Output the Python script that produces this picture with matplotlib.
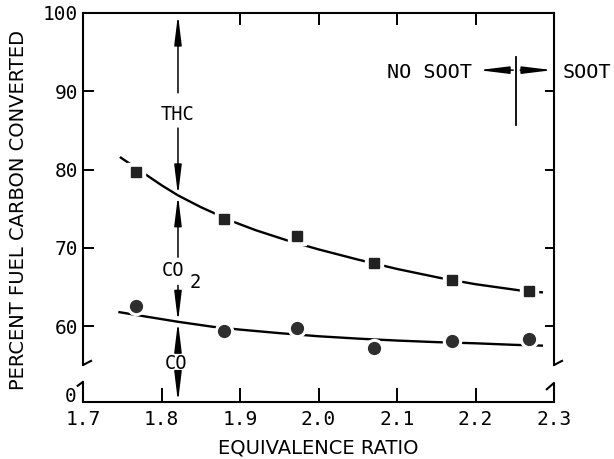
import matplotlib
matplotlib.use("Agg")
import matplotlib.pyplot as plt
from matplotlib.transforms import ScaledTranslation

# ---------------- data ----------------
ratio_pts = [1.767, 1.880, 1.972, 2.071, 2.170, 2.268]
square_pts = [79.7, 73.7, 71.5, 68.1, 65.9, 64.5]     # THC / CO2 boundary
circle_pts = [62.6, 59.4, 59.7, 57.2, 58.1, 58.3]     # CO2 / CO boundary

upper_curve_x = [1.747, 1.80, 1.821, 1.85, 1.891, 1.92, 1.96, 2.00, 2.05, 2.10, 2.155, 2.20, 2.257, 2.286]
upper_curve_y = [81.6, 78.0, 76.7, 75.2, 73.35, 72.25, 70.95, 69.8, 68.5, 67.3, 66.15, 65.35, 64.55, 64.3]
lower_curve_x = [1.745, 1.775, 1.821, 1.866, 1.90, 1.95, 2.00, 2.05, 2.10, 2.15, 2.20, 2.25, 2.286]
lower_curve_y = [61.8, 61.3, 60.55, 59.9, 59.55, 59.1, 58.7, 58.4, 58.15, 57.95, 57.8, 57.6, 57.5]

x_ticks = [1.7, 1.8, 1.9, 2.0, 2.1, 2.2, 2.3]
x_tick_labels = ["1.7", "1.8", "1.9", "2.0", "2.1", "2.2", "2.3"]
top_ticks = [1.9, 2.0, 2.1, 2.2]
y_ticks = [50.3, 60, 70, 80, 90, 100]
y_tick_labels = ["0", "60", "70", "80", "90", "100"]
right_ticks = [60, 70, 80, 90]

x_min, x_max = 1.7, 2.3
y_min, y_max = 50.3, 100

arrow_x = 1.821          # equivalence ratio of the vertical band arrows
thc_cross = 76.7         # upper curve at arrow_x
co_cross = 60.55         # lower curve at arrow_x
soot_limit = 2.2516      # soot / no soot boundary
soot_y = 92.7

MONO = "DejaVu Sans Mono"
SANS = "DejaVu Sans"

fig = plt.figure(figsize=(6.14, 4.59), dpi=100)
ax = fig.add_axes([83 / 614, 57 / 459, 471 / 614, 389 / 459])
ax.set_xlim(x_min, x_max)
ax.set_ylim(y_min, y_max)

# curves
ax.plot(upper_curve_x, upper_curve_y, color="black", lw=1.7, zorder=2,
        solid_capstyle="butt", solid_joinstyle="round")
ax.plot(lower_curve_x, lower_curve_y, color="black", lw=1.7, zorder=2,
        solid_capstyle="butt", solid_joinstyle="round")
# white halos around markers (gaps in lines)
ax.plot(ratio_pts, square_pts, ls="none", marker="s", ms=13, color="white", zorder=3)
ax.plot(ratio_pts, circle_pts, ls="none", marker="o", ms=13, color="white", zorder=3)
ax.plot(ratio_pts, square_pts, ls="none", marker="s", ms=7.5, color="#222222", zorder=4)
ax.plot(ratio_pts, circle_pts, ls="none", marker="o", ms=8.5, color="#2e2e2e", zorder=4)

HEAD = "-|>,head_length=1.8,head_width=0.22"

# band arrows
def band_arrow(y_from, y_to, x=arrow_x):
    ax.annotate("", xy=(x, y_to), xytext=(x, y_from),
                arrowprops=dict(arrowstyle=HEAD, mutation_scale=10, lw=1.1,
                                color="black", shrinkA=0, shrinkB=0), zorder=5)

band_arrow(89.8, 99.8)
band_arrow(85.3, thc_cross)
band_arrow(68.8, thc_cross)
band_arrow(65.2, co_cross)
band_arrow(56.8, co_cross)
band_arrow(54.1, y_min)

ax.text(arrow_x, 87.3, "THC", family=MONO, fontsize=13.5, ha="center", va="center_baseline")
ax.text(1.815, 67.3, "CO", family=MONO, fontsize=13.5, ha="center", va="center_baseline")
ax.text(1.843, 65.8, "2", family=MONO, fontsize=13.5, ha="center", va="center_baseline")
ax.text(1.818, 55.5, "CO", family=MONO, fontsize=13.5, ha="center", va="center_baseline")

# soot boundary
ax.plot([soot_limit, soot_limit], [94.4, 85.7], color="black", lw=1.3)
ax.annotate("", xy=(2.204, soot_y), xytext=(2.248, soot_y),
            arrowprops=dict(arrowstyle=HEAD, mutation_scale=10, lw=1.1,
                            color="black", shrinkA=0, shrinkB=0))
ax.annotate("", xy=(2.298, soot_y), xytext=(2.257, soot_y),
            arrowprops=dict(arrowstyle=HEAD, mutation_scale=10, lw=1.1,
                            color="black", shrinkA=0, shrinkB=0),
            annotation_clip=False)
ax.text(2.196, soot_y, "NO SOOT", family=MONO, fontsize=14.5, ha="right", va="center_baseline")
ax.text(2.311, soot_y, "SOOT", family=MONO, fontsize=14.5, ha="left", va="center_baseline",
        clip_on=False)

# ticks
ax.set_xticks(x_ticks)
ax.set_xticklabels(x_tick_labels, family=MONO, fontsize=14)
ax.set_yticks(y_ticks)
ax.set_yticklabels(y_tick_labels, family=MONO, fontsize=14)
ax.tick_params(axis="x", direction="in", length=10, width=1.4, pad=5.5, top=False)
ax.tick_params(axis="y", direction="in", length=8, width=1.4, pad=3.5, right=False)
ax.yaxis.get_major_ticks()[0].tick1line.set_visible(False)
zero_lbl = ax.yaxis.get_major_ticks()[0].label1
zero_lbl.set_transform(zero_lbl.get_transform() + ScaledTranslation(-0.02, 0.07, fig.dpi_scale_trans))

secx = ax.secondary_xaxis("top")
secx.set_xticks(top_ticks)
secx.tick_params(direction="in", length=8.5, width=1.4, labeltop=False)
for s in secx.spines.values():
    s.set_visible(False)
secy = ax.secondary_yaxis("right")
secy.set_yticks(right_ticks)
secy.tick_params(direction="in", length=6.5, width=1.4, labelright=False)
for s in secy.spines.values():
    s.set_visible(False)

# spines with axis breaks
for side in ["left", "right", "top", "bottom"]:
    ax.spines[side].set_linewidth(1.5)
ax.spines["left"].set_bounds(55.0, y_max)
ax.spines["right"].set_bounds(55.0, y_max)
brk = dict(color="black", lw=1.5, transform=ax.transAxes, clip_on=False, solid_capstyle="butt")
ax.plot([0, 0.019], [0.095, 0.107], **brk)
ax.plot([-0.013, 0, 0], [0.040, 0.052, 0], **brk)
ax.plot([1, 1.019], [0.095, 0.107], **brk)
ax.plot([0.983, 1, 1], [0.031, 0.049, 0], **brk)

ax.set_xlabel("EQUIVALENCE RATIO", family=SANS, fontsize=14)
ax.set_ylabel("PERCENT FUEL CARBON CONVERTED", family=SANS, fontsize=14)
ax.xaxis.set_label_coords(0.5, -0.118)
ax.xaxis.label.set_va("center")
ax.yaxis.set_label_coords(-0.137, 0.494)
ax.yaxis.label.set_va("center")

fig.savefig("out.png", dpi=100)
